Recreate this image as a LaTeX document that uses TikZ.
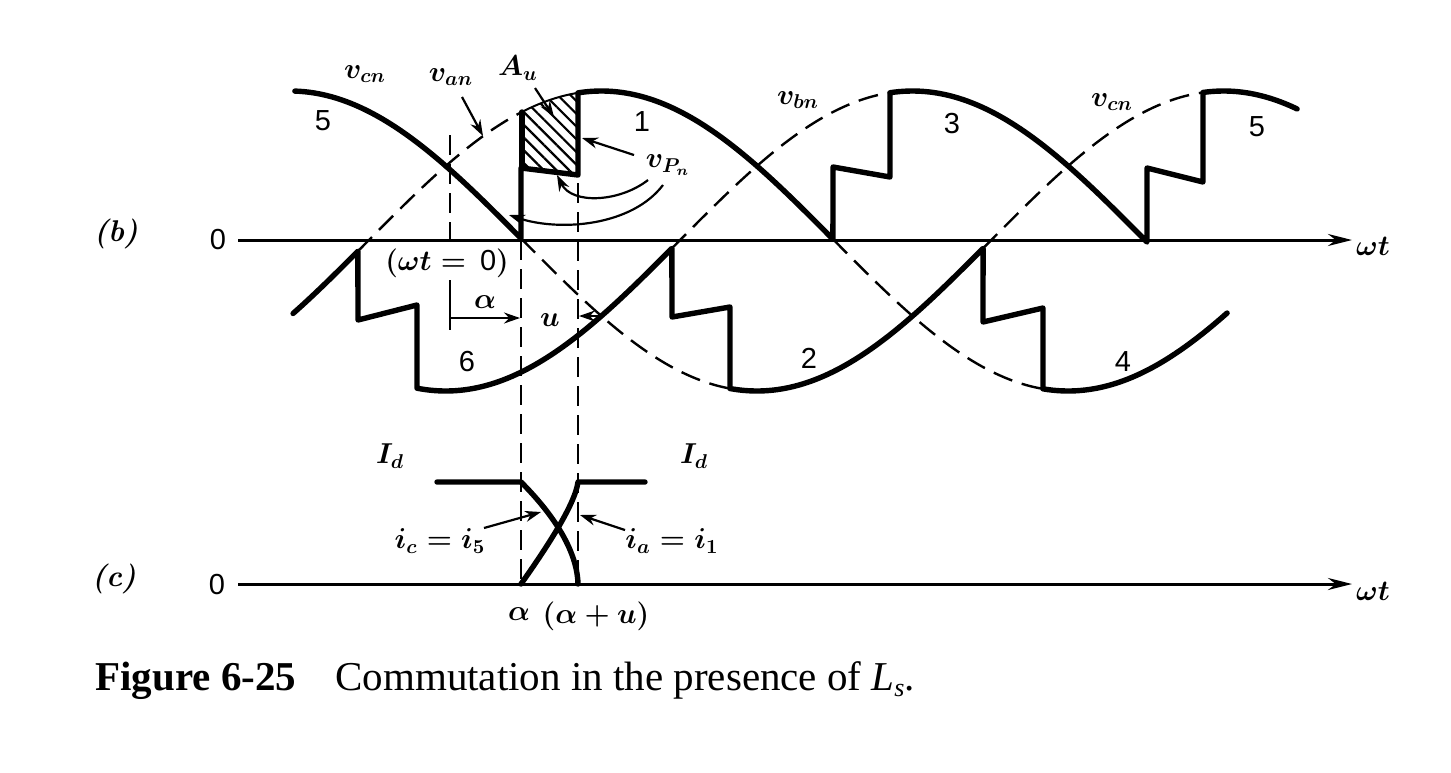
\documentclass[tikz,border=0pt]{standalone}
\usepackage{fontspec}
\newfontfamily\sansdig{Liberation Sans}
\newfontfamily\capfont{Liberation Serif}
\usetikzlibrary{arrows.meta,patterns.meta}
\begin{document}
\begin{tikzpicture}[x=0.5pt,y=-0.5pt,
  wave/.style={line width=2.7pt, line join=round, line cap=round},
  ghost/.style={line width=1.2pt, dash pattern=on 10pt off 5pt},
  guide/.style={line width=1.2pt, dash pattern=on 10pt off 4.5pt},
  axisline/.style={line width=1.5pt, -{Stealth[length=12pt,width=6pt]}},
  lbl/.style={font=\fontsize{14.5}{16}\selectfont\boldmath, inner sep=0pt},
  num/.style={font=\fontsize{14.5}{16}\selectfont\sansdig, inner sep=0pt},
  tag/.style={font=\fontsize{15}{17}\selectfont\bfseries\itshape, inner sep=0pt},
  ptr/.style={line width=1.1pt, -{Stealth[length=8pt,width=5.5pt]}},
  hatch/.style={pattern={Lines[angle=-45,distance=4.5pt,line width=1.1pt]}},
]
\useasboundingbox (0,0) rectangle (1451,772);

% ---------- axes ----------
\coordinate (b0) at (238,240);
\coordinate (bend) at (1352,240);
\draw[axisline] (b0) -- (bend);
\coordinate (c0) at (238,584);
\coordinate (cend) at (1352,584);
\draw[axisline] (c0) -- (cend);
\node[num] (zb) at (218,240) {0};
\node[num] (zc) at (217,585) {0};
\node[tag] (tb) at (116,234) {(b)};
\node[tag] (tc) at (114,579) {(c)};
\node[lbl] (wtb) at (1373,246) {$\omega t$};
\node[lbl] (wtc) at (1373,591) {$\omega t$};

% ---------- hatched area A_u ----------
\fill[hatch] plot[domain=59.4:81,samples=20] ({368+2.593*\x},{241-150*sin(\x)})
  -- (578,175) -- (522,168) -- cycle;
\draw[line width=1pt] plot[domain=59.4:81,samples=20] ({368+2.593*\x},{241-150*sin(\x)});
\draw[wave] (522,168) -- (522,112);

% ---------- dashed (non-conducting) parts of the phase voltages ----------
\draw[ghost] plot[domain=-3.9:59.4,samples=40] ({368+2.593*\x},{241-150*sin(\x)});
\draw[ghost] plot[domain=179.3:260.3,samples=50] ({368+2.593*\x},{241-150*sin(\x)});
\draw[ghost] plot[domain=117.2:201.3,samples=50] ({368+2.593*\x},{241-150*sin(\x-120)});
\draw[ghost] plot[domain=59:139.6,samples=50] ({368+2.593*\x},{241-150*sin(\x+120)});
\draw[ghost] plot[domain=237.2:322,samples=50] ({368+2.593*\x},{241-150*sin(\x+120)});

% ---------- upper envelope v_Pn ----------
\draw[wave] plot[domain=-28.2:59,samples=50] ({368+2.593*\x},{241-150*sin(\x+120)})
  -- (521,168) -- (578,175)
  -- plot[domain=81:179.3,samples=60] ({368+2.593*\x},{241-150*sin(\x)})
  -- (833,167) -- (890,177)
  -- plot[domain=201.3:300.4,samples=60] ({368+2.593*\x},{241-150*sin(\x-120)})
  -- (1147,168) -- (1203,182)
  -- plot[domain=322:358.3,samples=25] ({368+2.593*\x},{241-150*sin(\x+120)});

% ---------- lower envelope v_Nn ----------
\draw[wave] plot[domain=-28.9:-3.9,samples=20] ({368+2.593*\x},{241-150*sin(\x)})
  -- (358,320) -- (417,305)
  -- plot[domain=18.9:117.2,samples=60] ({368+2.593*\x},{241-150*sin(\x-120)})
  -- (672,317) -- (730,307)
  -- plot[domain=139.6:237.2,samples=60] ({368+2.593*\x},{241-150*sin(\x+120)})
  -- (983,322) -- (1043,308)
  -- plot[domain=260.3:331.3,samples=40] ({368+2.593*\x},{241-150*sin(\x)});

% ---------- vertical guide lines ----------
\coordinate (w0top) at (450,135);
\coordinate (w0bot) at (450,240);
\draw[guide] (w0top) -- (w0bot);
\coordinate (atop) at (521,240);
\coordinate (abot) at (521,584);
\draw[guide] (atop) -- (abot);
\coordinate (autop) at (578,183);
\coordinate (aubot) at (578,584);
\draw[guide] (autop) -- (aubot);

% ---------- alpha and u dimensions ----------
\node[lbl] (wt0) at (447,263) {$(\omega t = {}$\,{\sansdig 0}$)$};
\coordinate (tk1) at (450,280);
\coordinate (tk2) at (450,330);
\draw[line width=1.2pt] (tk1) -- (tk2);
\coordinate (alA) at (450,318);
\coordinate (alB) at (520,318);
\draw[ptr] (alA) -- (alB);
\node[lbl] (alab) at (485,302) {$\alpha$};
\node[lbl] (ulab) at (550,320) {$u$};
\coordinate (uA) at (600,316);
\coordinate (uB) at (579,316);
\draw[ptr] (uA) -- (uB);

% ---------- labels of part (b) ----------
\node[lbl] (vcn1) at (365,74) {$v_{cn}$};
\node[lbl] (van) at (451,77) {$v_{an}$};
\node[lbl] (Au) at (518,68) {$A_u$};
\node[lbl] (vbn) at (798,100) {$v_{bn}$};
\node[lbl] (vcn2) at (1112,102) {$v_{cn}$};
\node[lbl] (vpn) at (668,165) {$v_{P_n}$};
\node[num] (n5a) at (323,121) {5};
\node[num] (n1) at (642,122) {1};
\node[num] (n3) at (952,124) {3};
\node[num] (n5b) at (1257,127) {5};
\node[num] (n6) at (467,362) {6};
\node[num] (n2) at (809,358) {2};
\node[num] (n4) at (1123,362) {4};

\coordinate (vanA) at (462,97);
\coordinate (vanB) at (483,136);
\draw[ptr] (vanA) -- (vanB);
\coordinate (AuA) at (535,88);
\coordinate (AuB) at (554,117);
\draw[ptr] (AuA) -- (AuB);
\coordinate (vpA) at (634,155);
\coordinate (vpB) at (582,138);
\draw[ptr] (vpA) -- (vpB);
\coordinate (cv1A) at (648,180);
\coordinate (cv1B) at (557,175);
\draw[ptr] (cv1A) .. controls (620,202) and (572,205) .. (cv1B);
\coordinate (cv2A) at (663,185);
\coordinate (cv2B) at (509,215);
\draw[ptr] (cv2A) .. controls (632,226) and (560,232) .. (cv2B);

% ---------- part (c): currents ----------
\coordinate (icS) at (437,482);
\coordinate (icK) at (521,482);
\coordinate (icE) at (578,584);
\draw[wave] (icS) -- (icK) .. controls (545,506) and (577,545) .. (icE);
\coordinate (iaS) at (521,584);
\coordinate (iaK) at (578,482);
\coordinate (iaE) at (645,482);
\draw[wave] (iaS) .. controls (545,550) and (575,505) .. (iaK) -- (iaE);

\node[lbl] (Id1) at (390,456) {$I_d$};
\node[lbl] (Id2) at (694,456) {$I_d$};
\node[lbl] (icl) at (440,541) {$i_c = i_5$};
\node[lbl] (ial) at (672,541) {$i_a = i_1$};
\coordinate (icA) at (484,528);
\coordinate (icB) at (541,512);
\draw[ptr] (icA) -- (icB);
\coordinate (iaA) at (625,530);
\coordinate (iaB) at (580,515);
\draw[ptr] (iaA) -- (iaB);
\node[lbl] (alc) at (519,614) {$\alpha$};
\node[lbl] (aluc) at (596,616) {$(\alpha + u)$};

% ---------- caption ----------
\node[anchor=base west, inner sep=0pt, font=\fontsize{20.5}{24}\selectfont\capfont\bfseries] (capA) at (95,690) {Figure 6-25};
\node[anchor=base west, inner sep=0pt, font=\fontsize{20.5}{24}\selectfont\capfont] (capB) at (335,690)
  {Commutation in the presence of \textit{L}\raisebox{-3pt}{\fontsize{13}{13}\selectfont\itshape s}.};
\end{tikzpicture}
\end{document}
